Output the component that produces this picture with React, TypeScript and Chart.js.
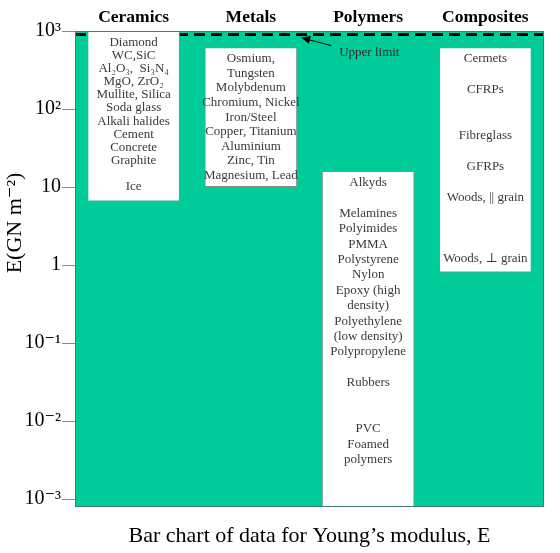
import React, { useEffect, useRef } from 'react';
import { Chart, registerables } from 'chart.js';

Chart.register(...registerables);

const categories = ['Ceramics', 'Metals', 'Polymers', 'Composites'];
const rangeLow = [6.5, 10, 0.00079, 0.8];
const rangeHigh = [1000, 620, 16, 620];
const upperLimit = 900;
const axisMin = 0.00079;
const axisMax = 1000;
const tickValues = [0.001, 0.01, 0.1, 1, 10, 100, 1000];
const tickLabels = ['10⁻³', '10⁻²', '10⁻¹', '1', '10', '10²', '10³'];

const ceramicsItems = ['Diamond', 'WC,SiC', 'Al₂O₃,  Si₃N₄', 'MgO, ZrO₂', 'Mullite, Silica', 'Soda glass', 'Alkali halides', 'Cement', 'Concrete', 'Graphite', '', 'Ice'];
const metalsItems = ['Osmium,', 'Tungsten', 'Molybdenum', 'Chromium, Nickel', 'Iron/Steel', 'Copper, Titanium', 'Aluminium', 'Zinc, Tin', 'Magnesium, Lead'];
const polymersItems = ['Alkyds', '', 'Melamines', 'Polyimides', 'PMMA', 'Polystyrene', 'Nylon', 'Epoxy (high', 'density)', 'Polyethylene', '(low density)', 'Polypropylene', '', 'Rubbers', '', '', 'PVC', 'Foamed', 'polymers'];
const compositesItems = ['Cermets', '', 'CFRPs', '', '', 'Fibreglass', '', 'GFRPs', '', 'Woods, || grain', '', '', '', 'Woods, ⊥ grain'];
const boxItems = [ceramicsItems, metalsItems, polymersItems, compositesItems];
const boxLineHeights = [13.1, 14.6, 15.4, 15.4];

const chartTitle = 'Bar chart of data for Young’s modulus, E';
const yTitle = 'E(GN m⁻²)';
const upperLimitLabel = 'Upper limit';

const SERIF = '"Liberation Serif", "DejaVu Serif", serif';

const decor = {
  id: 'decor',
  beforeDraw(chart: any) {
    const { ctx, chartArea: a } = chart;
    ctx.save();
    ctx.fillStyle = '#00CC99';
    ctx.fillRect(a.left, a.top, a.right - a.left, a.bottom - a.top);
    ctx.restore();
  },
  beforeDatasetsDraw(chart: any) {
    const { ctx, chartArea: a } = chart;
    const y = chart.scales.y.getPixelForValue(upperLimit);
    ctx.save();
    ctx.strokeStyle = '#000';
    ctx.lineWidth = 3;
    ctx.setLineDash([11, 6]);
    ctx.beginPath();
    ctx.moveTo(a.left, y);
    ctx.lineTo(a.right, y);
    ctx.stroke();
    ctx.restore();
  },
  afterDatasetsDraw(chart: any) {
    const { ctx } = chart;
    const meta = chart.getDatasetMeta(0);
    ctx.save();
    ctx.fillStyle = '#3a3a3a';
    ctx.font = `13px ${SERIF}`;
    ctx.textAlign = 'center';
    ctx.textBaseline = 'middle';
    meta.data.forEach((el: any, i: number) => {
      const top = Math.min(el.y, el.base);
      const lh = boxLineHeights[i];
      boxItems[i].forEach((t, j) => {
        if (t) ctx.fillText(t, el.x, top + 11.5 + j * lh);
      });
    });
    // upper limit arrow
    const metal = meta.data[1] as any;
    const tipX = metal.x + metal.width / 2 + 4;
    const tipY = chart.scales.y.getPixelForValue(upperLimit) + 3;
    const tailX = tipX + 30;
    const tailY = tipY + 8;
    ctx.strokeStyle = '#000';
    ctx.fillStyle = '#000';
    ctx.lineWidth = 1;
    ctx.beginPath();
    ctx.moveTo(tailX, tailY);
    ctx.lineTo(tipX + 6, tipY + 1.7);
    ctx.stroke();
    const ang = Math.atan2(tailY - tipY, tailX - tipX);
    const len = 9;
    const wid = 4;
    ctx.beginPath();
    ctx.moveTo(tipX, tipY);
    ctx.lineTo(tipX + len * Math.cos(ang) - wid * Math.sin(ang), tipY + len * Math.sin(ang) + wid * Math.cos(ang));
    ctx.lineTo(tipX + len * Math.cos(ang) + wid * Math.sin(ang), tipY + len * Math.sin(ang) - wid * Math.cos(ang));
    ctx.closePath();
    ctx.fill();
    ctx.fillStyle = '#2a2a2a';
    ctx.textAlign = 'left';
    ctx.font = `13px ${SERIF}`;
    ctx.fillText(upperLimitLabel, tailX + 8, tipY + 15);
    ctx.restore();
  },
  afterDraw(chart: any) {
    const { ctx, chartArea: a } = chart;
    ctx.save();
    ctx.strokeStyle = '#3f7f6f';
    ctx.lineWidth = 1;
    ctx.strokeRect(a.left + 0.5, a.top + 0.5, a.right - a.left - 1, a.bottom - a.top - 1);
    ctx.fillStyle = '#000';
    ctx.font = `22px ${SERIF}`;
    ctx.textAlign = 'center';
    ctx.textBaseline = 'middle';
    ctx.fillText(chartTitle, (a.left + a.right) / 2, 536);
    ctx.translate(15, 223);
    ctx.rotate(-Math.PI / 2);
    ctx.fillText(yTitle, 0, 0);
    ctx.restore();
  },
};

export default function App() {
  const ref = useRef<HTMLCanvasElement | null>(null);
  useEffect(() => {
    if (!ref.current) return;
    const chart = new Chart(ref.current, {
      type: 'bar',
      data: {
        labels: categories,
        datasets: [
          {
            data: categories.map((_, i) => [rangeLow[i], rangeHigh[i]]) as any,
            backgroundColor: '#ffffff',
            borderColor: '#8c8c8c',
            borderWidth: 1,
            borderSkipped: false,
            barPercentage: 0.79,
            categoryPercentage: 1,
          },
        ],
      },
      options: {
        animation: false,
        responsive: false,
        layout: { padding: { left: 0, right: 16, top: 0, bottom: 46 } },
        plugins: {
          legend: { display: false },
          tooltip: { enabled: false },
          title: { display: false },
        },
        scales: {
          x: {
            position: 'top',
            grid: { display: false },
            border: { display: false },
            ticks: {
              color: '#000',
              font: { family: SERIF, size: 17.5, weight: 'bold' },
              padding: -5,
              maxRotation: 0,
            },
            afterFit: (s: any) => {
              s.height = 31;
            },
          },
          y: {
            type: 'logarithmic',
            min: axisMin,
            max: axisMax,
            grid: {
              drawOnChartArea: false,
              drawTicks: true,
              tickLength: 13,
              color: '#8a8a8a',
            },
            border: { display: false },
            afterBuildTicks: (s: any) => {
              s.ticks = tickValues.map((v) => ({ value: v }));
            },
            ticks: {
              autoSkip: false,
              color: '#000',
              padding: 1,
              font: { family: SERIF, size: 20 },
              callback: (_v: any, i: number) => tickLabels[i],
            },
            afterFit: (s: any) => {
              s.width = 75;
            },
          },
        },
      },
      plugins: [decor],
    } as any);
    return () => chart.destroy();
  }, []);
  return (
    <div style={{ position: 'absolute', left: 0, top: 0, width: 560, height: 553, background: '#fff' }}>
      <canvas ref={ref} width={560} height={553} style={{ width: 560, height: 553 }} />
    </div>
  );
}
